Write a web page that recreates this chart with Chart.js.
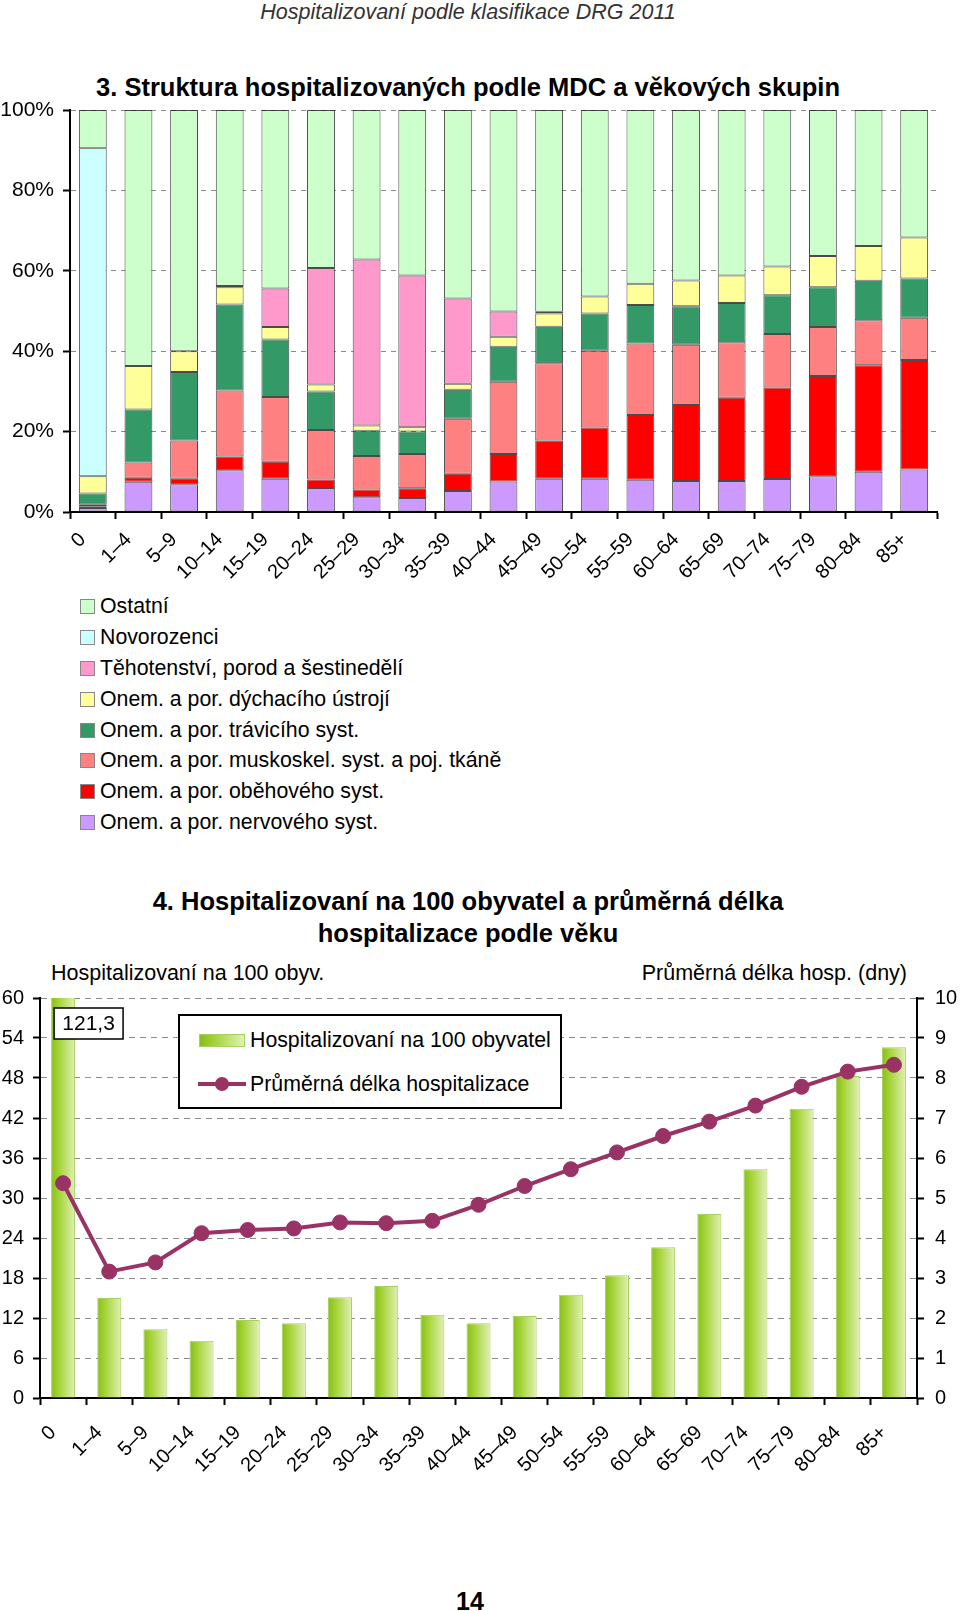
<!DOCTYPE html>
<html lang="cs">
<head>
<meta charset="utf-8">
<title>Hospitalizovaní podle klasifikace DRG 2011</title>
<script src="https://cdn.jsdelivr.net/npm/chart.js@4.4.1/dist/chart.umd.min.js"></script>
<style>
  html, body { margin: 0; padding: 0; background: #fff; }
  body { width: 960px; height: 1611px; position: relative; overflow: hidden;
         font-family: "Liberation Sans", Arial, sans-serif; color: #000; }
  .abs { position: absolute; }
  #pageHeader { left: 0; top: -1px; width: 936px; text-align: center; font-style: italic;
                font-size: 21.5px; line-height: 26px; color: #333; }
  #title1 { left: 0; top: 72px; width: 936px; text-align: center; font-weight: bold;
            font-size: 25.5px; line-height: 30px; }
  #c1 { left: 0; top: 100px; }
  #legend1 { left: 80px; top: 591px; font-size: 21.3px; }
  .lg1-item { height: 30.9px; display: flex; align-items: center; }
  .lg1-box { width: 13px; height: 13px; border: 1px solid #888; margin-right: 5px; }
  #title2 { left: 0; top: 885px; width: 936px; text-align: center; font-weight: bold;
            font-size: 25.5px; line-height: 32px; }
  .axisTitle { top: 960px; font-size: 21.5px; line-height: 26px; }
  #c2 { left: 0; top: 980px; }
  #legend2 { left: 178px; top: 1014px; width: 384px; height: 95px; box-sizing: border-box;
             border: 2px solid #000; background: #fff; font-size: 21.3px; }
  .lg2-item { position: absolute; left: 0; height: 26px; display: flex; align-items: center; }
  .lg2-bar { width: 46px; height: 13px; margin-left: 19px; margin-right: 5px;
             border: 1px solid #A8D060; box-sizing: border-box;
             background: linear-gradient(to right, #86BE1C, #A2D232 30%, #E0F1B6); }
  .lg2-line { width: 48px; height: 14px; margin-left: 18px; margin-right: 4px; position: relative; }
  .lg2-line:before { content: ""; position: absolute; left: 0; right: 0; top: 5px; height: 4px; background: #993366; }
  .lg2-line:after { content: ""; position: absolute; left: 17px; top: 0; width: 14px; height: 14px;
                    border-radius: 50%; background: #993366; }
  #pageNum { left: 0; top: 1587px; width: 940px; text-align: center; font-weight: bold;
             font-size: 25px; line-height: 28px; }
</style>
</head>
<body>
<div id="pageHeader" class="abs">Hospitalizovaní podle klasifikace DRG 2011</div>

<div id="title1" class="abs">3. Struktura hospitalizovaných podle MDC a věkových skupin</div>
<canvas id="c1" class="abs" width="960" height="490"></canvas>
<div id="legend1" class="abs"></div>

<div id="title2" class="abs">4. Hospitalizovaní na 100 obyvatel a průměrná délka<br>hospitalizace podle věku</div>
<div class="abs axisTitle" style="left:51px">Hospitalizovaní na 100 obyv.</div>
<div class="abs axisTitle" style="right:53px">Průměrná délka hosp. (dny)</div>
<canvas id="c2" class="abs" width="960" height="500"></canvas>
<div id="legend2" class="abs"></div>

<div id="pageNum" class="abs">14</div>

<script>
// ===================== DATA =====================
const ageGroups = ["0", "1–4", "5–9", "10–14", "15–19", "20–24", "25–29", "30–34", "35–39",
  "40–44", "45–49", "50–54", "55–59", "60–64", "65–69", "70–74", "75–79", "80–84", "85+"];

// graf 3 - struktura podle MDC (% hospitalizovaných ve věkové skupině)
const nervove      = [1.0, 7.5, 6.9, 10.4, 8.3, 6.0, 3.7, 3.5, 5.2, 7.6, 8.3, 8.3, 8.0, 7.7, 7.7, 8.2, 8.9, 10.0, 10.6];
const obehove      = [0.4, 1.0, 1.4, 3.4, 4.2, 2.1, 1.9, 2.4, 4.3, 6.8, 9.5, 12.7, 16.1, 18.9, 20.7, 22.8, 24.9, 26.5, 27.2];
const muskoskel    = [0.4, 3.8, 9.5, 16.4, 16.1, 12.3, 8.3, 8.5, 13.7, 18.0, 19.2, 19.1, 17.8, 15.0, 13.8, 13.3, 12.2, 11.2, 10.5];
const travici      = [2.8, 13.2, 17.0, 21.4, 14.3, 9.6, 6.3, 5.6, 7.2, 8.7, 9.1, 9.3, 9.6, 9.6, 9.8, 9.6, 9.9, 9.8, 9.8];
const dychaci      = [4.3, 10.8, 5.2, 4.3, 3.1, 1.7, 1.3, 1.1, 1.5, 2.5, 3.3, 4.2, 5.3, 6.4, 6.8, 7.2, 7.8, 8.7, 10.2];
const tehotenstvi  = [0, 0, 0, 0.3, 9.6, 29.0, 41.3, 37.7, 21.2, 6.3, 0.4, 0, 0, 0, 0, 0, 0, 0, 0];
const novorozenci  = [81.6, 0, 0, 0, 0, 0, 0, 0, 0, 0, 0, 0, 0, 0, 0, 0, 0, 0, 0];
const ostatni      = [9.5, 63.7, 60.0, 43.8, 44.4, 39.3, 37.2, 41.2, 46.9, 50.1, 50.2, 46.4, 43.2, 42.4, 41.2, 38.9, 36.3, 33.8, 31.7];

// graf 4 - hospitalizovaní na 100 obyvatel a průměrná délka hospitalizace
const hospPer100   = [121.3, 15.0, 10.3, 8.6, 11.7, 11.2, 15.1, 16.8, 12.5, 11.2, 12.3, 15.5, 18.4, 22.6, 27.6, 34.3, 43.4, 48.3, 52.6];
const avgStay      = [5.37, 3.16, 3.39, 4.12, 4.20, 4.24, 4.39, 4.37, 4.43, 4.83, 5.30, 5.72, 6.14, 6.55, 6.91, 7.31, 7.78, 8.16, 8.33];

const pctTicks = [0, 20, 40, 60, 80, 100];

// ===================== COMMON =====================
Chart.defaults.font.family = '"Liberation Sans", Arial, sans-serif';
Chart.defaults.color = "#000";
Chart.defaults.animation = false;

// pevná šířka / výška os, bez automatického okraje kvůli popiskům
const fixWidth = (w) => (scale) => { scale.width = w; scale.paddingTop = 0; scale.paddingBottom = 0; };
const fixHeight = (h) => (scale) => { scale.height = h; scale.paddingLeft = 0; scale.paddingRight = 0; };

// ===================== GRAF 3 - STRUKTURA PODLE MDC =====================
const mdcSeries = [
  { label: "Onem. a por. nervového syst.", data: nervove, color: "#CC99FF" },
  { label: "Onem. a por. oběhového syst.", data: obehove, color: "#FF0000" },
  { label: "Onem. a por. muskoskel. syst. a poj. tkáně", data: muskoskel, color: "#FF8080" },
  { label: "Onem. a por. trávicího syst.", data: travici, color: "#339966" },
  { label: "Onem. a por. dýchacího ústrojí", data: dychaci, color: "#FFFF99" },
  { label: "Těhotenství, porod a šestinedělí", data: tehotenstvi, color: "#FF99CC" },
  { label: "Novorozenci", data: novorozenci, color: "#CCFFFF" },
  { label: "Ostatní", data: ostatni, color: "#CCFFCC" }
];

const mdcChart = new Chart(document.getElementById("c1").getContext("2d"), {
  type: "bar",
  data: {
    labels: ageGroups,
    datasets: mdcSeries.map(s => ({
      label: s.label,
      data: s.data,
      backgroundColor: s.color,
      borderColor: "rgba(30,30,30,0.8)",
      borderWidth: 1,
      borderSkipped: false,
      barPercentage: 0.61,
      categoryPercentage: 1
    }))
  },
  options: {
    responsive: false,
    layout: { padding: { top: 10, right: 23, left: 0, bottom: 0 } },
    plugins: { legend: { display: false }, tooltip: { enabled: false } },
    scales: {
      x: {
        stacked: true,
        afterFit: fixHeight(78),
        grid: { drawOnChartArea: false, tickColor: "#000", tickLength: 7, tickWidth: 2 },
        border: { color: "#000", width: 2 },
        ticks: { font: { size: 20 }, minRotation: 45, maxRotation: 45, autoSkip: false,
                 padding: 9, labelOffset: -10 }
      },
      y: {
        stacked: true,
        min: 0,
        max: 100,
        afterFit: fixWidth(70),
        afterBuildTicks: (scale) => { scale.ticks = pctTicks.map(v => ({ value: v })); },
        grid: { color: "#8a8a8a", lineWidth: 1, tickColor: "#000", tickLength: 7, tickWidth: 2 },
        border: { color: "#000", width: 2, dash: [5, 5] },
        ticks: { font: { size: 21 }, padding: 9, callback: v => v + "%" }
      }
    }
  }
});

// legenda grafu 3 (svisle, od Ostatní dolů)
const legend1 = document.getElementById("legend1");
mdcChart.data.datasets.slice().reverse().forEach(ds => {
  const item = document.createElement("div");
  item.className = "lg1-item";
  item.innerHTML = `<span class="lg1-box" style="background:${ds.backgroundColor}"></span><span>${ds.label}</span>`;
  legend1.appendChild(item);
});

// ===================== GRAF 4 - HOSPITALIZOVANÍ A DÉLKA =====================
const hospBarPct = 0.52;

// přechod zelené zleva doprava v každém sloupci
function barGradient(c) {
  const chart = c.chart;
  const xs = chart.scales.x;
  if (c.type !== "data" || !chart.chartArea || !xs) return "#A2D232";
  const cx = xs.getPixelForValue(c.dataIndex);
  const w = xs.width / ageGroups.length * hospBarPct;
  const g = chart.ctx.createLinearGradient(cx - w / 2, 0, cx + w / 2, 0);
  g.addColorStop(0, "#86BE1C");
  g.addColorStop(0.3, "#A2D232");
  g.addColorStop(1, "#E0F1B6");
  return g;
}

// popisek useknutého sloupce (hodnota mimo osu)
const clippedLabel = {
  id: "clippedLabel",
  afterDatasetsDraw(chart) {
    const ctx = chart.ctx;
    const yMax = chart.scales.y.max;
    chart.getDatasetMeta(0).data.forEach((bar, i) => {
      if (hospPer100[i] <= yMax) return;
      const x = bar.x - 9, y = chart.chartArea.top + 10, w = 69, h = 31;
      ctx.save();
      ctx.fillStyle = "#fff";
      ctx.fillRect(x, y, w, h);
      ctx.strokeStyle = "#000";
      ctx.lineWidth = 1.5;
      ctx.strokeRect(x, y, w, h);
      ctx.fillStyle = "#000";
      ctx.font = '21px "Liberation Sans", Arial, sans-serif';
      ctx.textAlign = "center";
      ctx.textBaseline = "middle";
      ctx.fillText(hospPer100[i].toFixed(1).replace(".", ","), x + w / 2, y + h / 2 + 1);
      ctx.restore();
    });
  }
};

const hospChart = new Chart(document.getElementById("c2").getContext("2d"), {
  type: "bar",
  data: {
    labels: ageGroups,
    datasets: [
      {
        type: "bar",
        label: "Hospitalizovaní na 100 obyvatel",
        data: hospPer100,
        yAxisID: "y",
        order: 2,
        backgroundColor: barGradient,
        borderColor: "#A8D060",
        borderWidth: 1,
        barPercentage: hospBarPct,
        categoryPercentage: 1
      },
      {
        type: "line",
        label: "Průměrná délka hospitalizace",
        data: avgStay,
        yAxisID: "y2",
        order: 1,
        borderColor: "#993366",
        borderWidth: 4,
        pointRadius: 7.5,
        pointBackgroundColor: "#993366",
        pointBorderColor: "#993366",
        pointBorderWidth: 1,
        tension: 0
      }
    ]
  },
  options: {
    responsive: false,
    layout: { padding: { top: 18, right: 0, left: 0, bottom: 0 } },
    plugins: { legend: { display: false }, tooltip: { enabled: false } },
    scales: {
      x: {
        afterFit: fixHeight(82),
        grid: { drawOnChartArea: false, tickColor: "#000", tickLength: 7, tickWidth: 2 },
        border: { color: "#000", width: 2 },
        ticks: { font: { size: 20 }, minRotation: 45, maxRotation: 45, autoSkip: false,
                 padding: 16, labelOffset: -10 }
      },
      y: {
        position: "left",
        min: 0,
        max: 60,
        afterFit: fixWidth(40),
        ticks: { stepSize: 6, font: { size: 20 }, padding: 9 },
        grid: { color: "#8a8a8a", lineWidth: 1, tickColor: "#000", tickLength: 7, tickWidth: 2 },
        border: { color: "#000", width: 2, dash: [6, 5] }
      },
      y2: {
        position: "right",
        min: 0,
        max: 10,
        afterFit: fixWidth(43),
        ticks: { stepSize: 1, font: { size: 20 }, padding: 11 },
        grid: { drawOnChartArea: false, tickColor: "#000", tickLength: 7, tickWidth: 2 },
        border: { color: "#000", width: 2 }
      }
    }
  },
  plugins: [clippedLabel]
});

// legenda grafu 4
const legend2 = document.getElementById("legend2");
hospChart.data.datasets.forEach((ds, i) => {
  const item = document.createElement("div");
  item.className = "lg2-item";
  item.style.top = (i === 0 ? 11 : 55) + "px";
  const swatch = ds.type === "line" ? "lg2-line" : "lg2-bar";
  item.innerHTML = `<span class="${swatch}"></span><span>${ds.label}</span>`;
  legend2.appendChild(item);
});
</script>
</body>
</html>
